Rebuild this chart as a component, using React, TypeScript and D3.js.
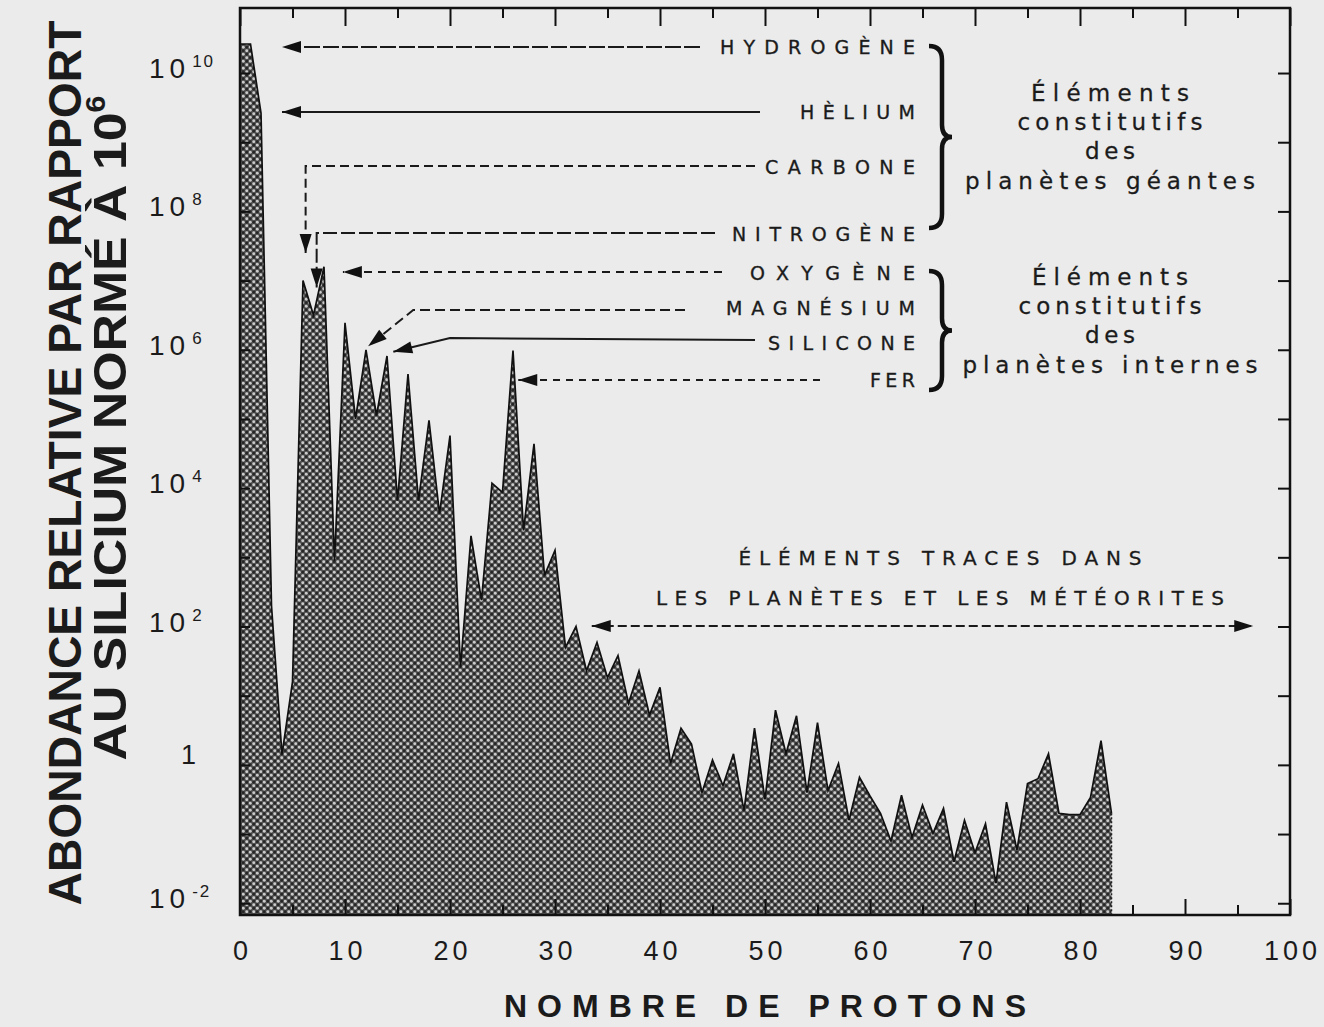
import * as d3 from "d3";
import { useRef, useEffect } from "react";

// nombre de protons (Z); the drawing starts the hydrogen plateau right at the axis
const protons = [
  0, 1, 2, 3, 4, 5, 6, 7, 8, 9, 10, 11, 12, 13, 14, 15, 16, 17, 18, 19, 20,
  21, 22, 23, 24, 25, 26, 27, 28, 29, 30, 31, 32, 33, 34, 35, 36, 37, 38, 39, 40,
  41, 42, 43, 44, 45, 46, 47, 48, 49, 50, 51, 52, 53, 54, 55, 56, 57, 58, 59, 60,
  61, 62, 63, 64, 65, 66, 67, 68, 69, 70, 71, 72, 73, 74, 75, 76, 77, 78, 79, 80,
  81, 82, 83,
];

// abondance (Si = 10^6), given as the power of ten
const abundanceExp = [
  10.42, 10.42, 9.42, 2.3, 0.15, 1.2, 7.0, 6.5, 7.2, 2.95, 6.39,
  5.0, 6.0, 5.05, 5.91, 3.82, 5.65, 3.82, 4.98, 3.63, 4.76,
  1.41, 3.31, 2.38, 4.07, 3.94, 5.99, 3.39, 4.64, 2.74, 3.1,
  1.7, 2.0, 1.36, 1.77, 1.26, 1.58, 0.89, 1.36, 0.72, 1.12,
  0.02, 0.53, 0.3, -0.4, 0.07, -0.3, 0.16, -0.66, 0.53, -0.5,
  0.79, 0.16, 0.71, -0.4, 0.61, -0.37, 0.02, -0.8, -0.18, -0.45,
  -0.7, -1.1, -0.44, -1.05, -0.58, -0.99, -0.63, -1.4, -0.8, -1.27,
  -0.85, -1.71, -0.54, -1.23, -0.27, -0.2, 0.16, -0.7, -0.72, -0.72,
  -0.47, 0.35, -0.7,
];

const xMajorTicks = [0, 10, 20, 30, 40, 50, 60, 70, 80, 90, 100];
const xMinorTicks = [5, 15, 25, 35, 45, 55, 65, 75, 85, 95];
const yTickExps = [-2, -1, 0, 1, 2, 3, 4, 5, 6, 7, 8, 9, 10];
const yLabelExps = [-2, 0, 2, 4, 6, 8, 10];

const elementNames = ["HYDROGÈNE", "HÈLIUM", "CARBONE", "NITROGÈNE", "OXYGÈNE", "MAGNÉSIUM", "SILICONE", "FER"];
const giantLines = ["Éléments", "constitutifs", "des", "planètes géantes"];
const innerLines = ["Éléments", "constitutifs", "des", "planètes internes"];
const traceLines = ["ÉLÉMENTS TRACES DANS", "LES PLANÈTES ET LES MÉTÉORITES"];

const FONT = "'Liberation Sans', Arial, Helvetica, sans-serif";
const WIDE = "'DejaVu Sans', 'Liberation Sans', sans-serif";
const INK = "#1b1b1b";

export default function App() {
  const ref = useRef(null);

  useEffect(() => {
    const W = 1324, H = 1027;
    const left = 240, right = 1290, top = 8, bottom = 915;

    const svg = d3.select(ref.current);
    svg.selectAll("*").remove();
    svg.attr("width", W).attr("height", H);

    const x = d3.scaleLinear().domain([0, 100]).range([left, right]);
    const y = d3.scaleLog().domain([10 ** -2.17, 10 ** 10.94]).range([bottom, top]);

    // halftone screen like the printed figure
    const pat = svg.append("defs").append("pattern")
      .attr("id", "halftone").attr("patternUnits", "userSpaceOnUse")
      .attr("width", 7).attr("height", 7);
    pat.append("rect").attr("width", 7).attr("height", 7).attr("fill", "#505050");
    pat.append("circle").attr("cx", 1.75).attr("cy", 1.75).attr("r", 1.45).attr("fill", "#cbcbcb");
    pat.append("circle").attr("cx", 5.25).attr("cy", 5.25).attr("r", 1.45).attr("fill", "#cbcbcb");
    pat.append("circle").attr("cx", 5.25).attr("cy", 1.75).attr("r", 1.4).attr("fill", "#262626");
    pat.append("circle").attr("cx", 1.75).attr("cy", 5.25).attr("r", 1.4).attr("fill", "#262626");

    svg.append("rect").attr("width", W).attr("height", H).attr("fill", "#ebebeb");

    const data = protons.map((z, i) => ({ z, v: 10 ** abundanceExp[i] }));

    const area = d3.area().x(d => x(d.z)).y0(bottom).y1(d => y(d.v));
    const line = d3.line().x(d => x(d.z)).y(d => y(d.v));

    svg.append("path").datum(data).attr("d", area).attr("fill", "url(#halftone)");
    svg.append("path").datum(data).attr("d", line)
      .attr("fill", "none").attr("stroke", "#111").attr("stroke-width", 1.7);
    const last = data[data.length - 1];
    svg.append("line")
      .attr("x1", x(last.z)).attr("x2", x(last.z))
      .attr("y1", y(last.v)).attr("y2", bottom)
      .attr("stroke", "#222").attr("stroke-width", 1.5).attr("stroke-dasharray", "2 2");

    // ticks (all pointing inward)
    const cleanAxis = g => {
      g.select(".domain").remove();
      g.selectAll(".tick line").attr("stroke", "#111").attr("stroke-width", 2);
    };
    const noLabel = () => "";

    const bottomAxis = svg.append("g").attr("transform", `translate(0,${bottom})`)
      .call(d3.axisBottom(x).tickValues(xMajorTicks).tickSize(-16).tickPadding(26).tickFormat(d3.format("d")))
      .call(cleanAxis);
    bottomAxis.attr("font-family", FONT).attr("font-size", 27).attr("color", INK);
    bottomAxis.selectAll("text").attr("letter-spacing", 4).attr("dx", 2);

    svg.append("g").attr("transform", `translate(0,${bottom})`)
      .call(d3.axisBottom(x).tickValues(xMinorTicks).tickSize(-10).tickFormat(noLabel)).call(cleanAxis);
    svg.append("g").attr("transform", `translate(0,${top})`)
      .call(d3.axisTop(x).tickValues(xMajorTicks).tickSize(-18).tickFormat(noLabel)).call(cleanAxis);
    svg.append("g").attr("transform", `translate(0,${top})`)
      .call(d3.axisTop(x).tickValues(xMinorTicks).tickSize(-10).tickFormat(noLabel)).call(cleanAxis);
    svg.append("g").attr("transform", `translate(${left},0)`)
      .call(d3.axisLeft(y).tickValues(yTickExps.map(e => 10 ** e)).tickSize(-10).tickFormat(noLabel)).call(cleanAxis);
    svg.append("g").attr("transform", `translate(${right},0)`)
      .call(d3.axisRight(y).tickValues(yTickExps.map(e => 10 ** e)).tickSize(-12).tickFormat(noLabel)).call(cleanAxis);

    // frame
    svg.append("rect")
      .attr("x", left).attr("y", top).attr("width", right - left).attr("height", bottom - top)
      .attr("fill", "none").attr("stroke", "#111").attr("stroke-width", 2.5);

    // y tick labels with exponents
    yLabelExps.forEach(e => {
      const yy = y(10 ** e);
      if (e === 0) {
        svg.append("text").attr("x", 181).attr("y", yy - 1)
          .attr("font-family", FONT).attr("font-size", 27).attr("fill", INK).text("1");
        return;
      }
      const t = svg.append("text").attr("x", 149).attr("y", yy + 5)
        .attr("font-family", FONT).attr("font-size", 28).attr("fill", INK).attr("letter-spacing", 5);
      t.append("tspan").text("10");
      t.append("tspan").attr("dx", 2).attr("dy", -11).attr("font-size", 17).attr("letter-spacing", 2).text(String(e));
    });

    // axis titles
    svg.append("text")
      .attr("x", x(50)).attr("y", 1017).attr("text-anchor", "middle")
      .attr("font-family", FONT).attr("font-weight", "bold").attr("font-size", 32).attr("fill", INK)
      .attr("textLength", 522).attr("lengthAdjust", "spacing")
      .text("NOMBRE DE PROTONS");

    svg.append("text")
      .attr("transform", "translate(65,463) rotate(-90)")
      .attr("text-anchor", "middle").attr("dominant-baseline", "central")
      .attr("font-family", FONT).attr("font-weight", "bold").attr("font-size", 46).attr("fill", INK)
      .attr("textLength", 885).attr("lengthAdjust", "spacingAndGlyphs")
      .text("ABONDANCE RELATIVE PAR RAPPORT");
    const t2 = svg.append("text")
      .attr("transform", "translate(110,428) rotate(-90)")
      .attr("text-anchor", "middle").attr("dominant-baseline", "central")
      .attr("font-family", FONT).attr("font-weight", "bold").attr("font-size", 46).attr("fill", INK)
      .attr("textLength", 665).attr("lengthAdjust", "spacingAndGlyphs");
    t2.append("tspan").text("AU SILICIUM NORMÉ À 10");
    t2.append("tspan").attr("dy", -14).attr("font-size", 27).text("6");

    // arrows
    const head = (g, from, to, len = 19, half = 6) => {
      const dx = to[0] - from[0], dy = to[1] - from[1];
      const n = Math.hypot(dx, dy) || 1;
      const ux = dx / n, uy = dy / n;
      const bx = to[0] - ux * len, by = to[1] - uy * len;
      g.append("path")
        .attr("d", `M${to[0]},${to[1]}L${bx - uy * half},${by + ux * half}L${bx + uy * half},${by - ux * half}Z`)
        .attr("fill", "#111");
    };
    const arrow = (pts, dash, both = false) => {
      const g = svg.append("g");
      g.append("path").attr("d", d3.line()(pts))
        .attr("fill", "none").attr("stroke", "#1a1a1a").attr("stroke-width", 2)
        .attr("stroke-dasharray", dash);
      head(g, pts[pts.length - 2], pts[pts.length - 1]);
      if (both) head(g, pts[1], pts[0]);
    };

    const rows = [47, 112, 167, 234, 273, 308, 343, 380];
    const labelWidths = [195, 115, 150, 183, 165, 189, 147, 45];
    const leaderStart = [700, 760, 755, 715, 722, 685, 755, 820];
    const dashes = ["16 3", null, "9 5", "14 4", "8 6", "10 5", null, "7 6"];

    const leaders = [
      [[leaderStart[0], rows[0]], [x(4), rows[0]]],
      [[leaderStart[1], rows[1]], [x(4), rows[1]]],
      [[leaderStart[2], rows[2] - 1], [x(6.25), rows[2] - 1], [x(6.25), y(10 ** 7.4)]],
      [[leaderStart[3], rows[3] - 1], [x(7.3), rows[3] - 1], [x(7.3), y(10 ** 6.9)]],
      [[leaderStart[4], rows[4] - 1], [x(9.8), rows[4] - 1]],
      [[leaderStart[5], rows[5] + 2], [x(16.5), rows[5] + 2], [x(12.2), y(10 ** 6.05)]],
      [[leaderStart[6], rows[6] - 3], [x(20), rows[6] - 5], [x(14.6), y(10 ** 5.97)]],
      [[leaderStart[7], rows[7]], [x(26.5), rows[7]]],
    ];
    leaders.forEach((pts, i) => arrow(pts, dashes[i]));

    elementNames.forEach((name, i) => {
      svg.append("text")
        .attr("x", 915).attr("y", rows[i] + 7).attr("text-anchor", "end")
        .attr("font-family", WIDE).attr("font-size", 19).attr("fill", INK)
        .attr("stroke", INK).attr("stroke-width", 0.35)
        .attr("textLength", labelWidths[i]).attr("lengthAdjust", "spacing")
        .text(name);
    });

    // braces
    const brace = (x0, y0, y1) => {
      const ym = (y0 + y1) / 2;
      svg.append("path")
        .attr("d", `M${x0 - 6},${y0} Q${x0 + 7},${y0} ${x0 + 7},${y0 + 14} L${x0 + 7},${ym - 12} Q${x0 + 7},${ym} ${x0 + 17},${ym} Q${x0 + 7},${ym} ${x0 + 7},${ym + 12} L${x0 + 7},${y1 - 14} Q${x0 + 7},${y1} ${x0 - 6},${y1}`)
        .attr("fill", "none").attr("stroke", "#111").attr("stroke-width", 4.5);
    };
    brace(935, 46, 228);
    brace(935, 271, 390);

    const groupText = (lines, baselines, widths) => {
      lines.forEach((s, i) => {
        svg.append("text")
          .attr("x", 1110).attr("y", baselines[i]).attr("text-anchor", "middle")
          .attr("font-family", WIDE).attr("font-size", 23).attr("fill", INK)
          .attr("stroke", INK).attr("stroke-width", 0.3)
          .attr("textLength", widths[i]).attr("lengthAdjust", "spacing")
          .text(s);
      });
    };
    groupText(giantLines, [101, 130, 159, 189], [158, 185, 50, 290]);
    groupText(innerLines, [285, 314, 343, 373], [156, 183, 50, 295]);

    traceLines.forEach((s, i) => {
      svg.append("text")
        .attr("x", 940).attr("y", [565, 605][i]).attr("text-anchor", "middle")
        .attr("font-family", WIDE).attr("font-size", 20).attr("fill", INK)
        .attr("stroke", INK).attr("stroke-width", 0.3)
        .attr("textLength", [403, 568][i]).attr("lengthAdjust", "spacing")
        .text(s);
    });
    arrow([[x(33.5), 626], [x(96.5), 626]], "9 4", true);
  }, []);

  return <svg ref={ref} style={{ position: "absolute", left: 0, top: 0, display: "block" }}></svg>;
}
